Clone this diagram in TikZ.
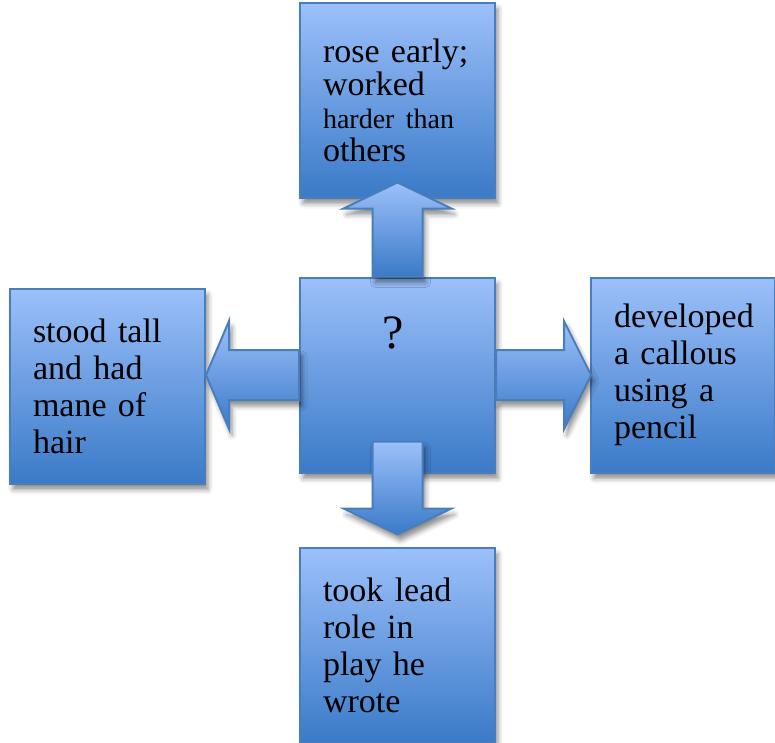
\documentclass[tikz,border=0pt]{standalone}
\usepackage{fontspec}
\setmainfont{Liberation Serif}
\usetikzlibrary{positioning,shadows.blur}

\definecolor{boxline}{RGB}{74,126,187}
\definecolor{boxtop}{RGB}{156,192,250}
\definecolor{boxbottom}{RGB}{58,122,200}

\tikzset{
  softshadow/.style={blur shadow={shadow xshift=3pt, shadow yshift=-6pt, shadow blur radius=5pt, shadow opacity=45}},
  box/.style={draw=boxline, line width=2pt, top color=boxtop, bottom color=boxbottom,
    minimum width=195pt, minimum height=195pt, text width=149pt, inner sep=0pt,
    align=left, font=\fontsize{34}{37}\selectfont, softshadow},
  fat/.style={draw=boxline, line width=2pt, line join=miter, top color=boxtop,
    bottom color=boxbottom, softshadow},
}

\begin{document}
\begin{tikzpicture}[x=1pt, y=1pt]
    \useasboundingbox (0,0) rectangle (775,-742);

    \node[box] (mid) at (397.5,-375) {};
    \node[font=\fontsize{48}{48}\selectfont, anchor=base] (ask) at ([xshift=-4pt, yshift=-72pt]mid.north) {?};

    \node[box, above=78pt of mid, font=\fontsize{34}{33}\selectfont] (rose) {rose early;\\ worked\\ {\fontsize{28}{33}\selectfont harder than}\\ others};
    \node[box, left=93pt of mid, yshift=-11pt] (tall) {stood tall\\ and had\\ mane of\\ hair};
    \node[box, right=94pt of mid, minimum width=184pt, text width=138pt] (callous) {developed\\ a callous\\ using a\\ pencil};
    \node[box, below=73pt of mid] (play) {took lead\\ role in\\ play he\\ wrote};

    % block arrows out of the middle box
    \path[fat] ([xshift=-25pt]mid.north) -- ++(0,68) -- ++(-29,0) -- ++(54,26) -- ++(54,-26) -- ++(-29,0) -- ++(0,-68) -- cycle;
    \path[fat] ([yshift=25pt]mid.west) -- ++(-70,0) -- ++(0,29) -- ++(-23,-54) -- ++(23,-54) -- ++(0,29) -- ++(70,0) -- cycle;
    \path[fat] ([yshift=25pt]mid.east) -- ++(68,0) -- ++(0,29) -- ++(27,-54) -- ++(-27,-54) -- ++(0,29) -- ++(-68,0) -- cycle;
    \path[fat] ([xshift=-25pt, yshift=32pt]mid.south) -- ++(0,-67) -- ++(-29,0) -- ++(54,-26) -- ++(54,26) -- ++(-29,0) -- ++(0,67) -- cycle;
\end{tikzpicture}
\end{document}
